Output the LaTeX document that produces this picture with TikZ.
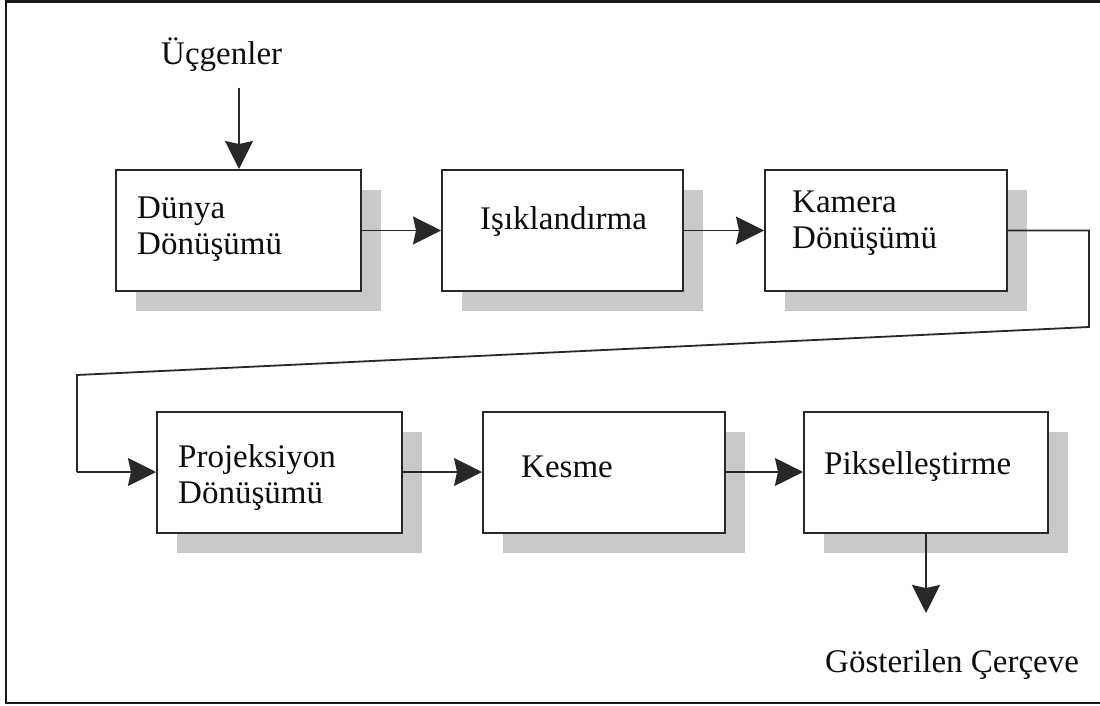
\documentclass[tikz,border=0pt]{standalone}
\usepackage{fontspec}
\setmainfont{Liberation Serif}
\usetikzlibrary{arrows.meta,shadows}

\definecolor{shade}{RGB}{200,201,203}
\definecolor{ink}{RGB}{40,40,40}

\begin{document}
\begin{tikzpicture}[x=1pt,y=-1pt,
  stage/.style={draw=ink, line width=2pt, fill=white, inner sep=0pt,
    minimum height=121pt,
    drop shadow={shadow xshift=20pt, shadow yshift=-20pt, fill=shade, opacity=1}},
  lbl/.style={inner sep=0pt, anchor=base west, align=left, text=black!95,
    font=\fontsize{33}{36}\selectfont},
  flow/.style={draw=ink, line width=1.8pt,
    -{Stealth[inset=3pt, length=28pt, width=28pt]}},
  wire/.style={draw=ink, line width=1.8pt}]

\useasboundingbox (0,0) rectangle (1100,706);

% frame (open on the right)
\draw[line width=2.6pt, black!90] (1104,1.5) -- (6,1.5) -- (6,703) -- (1104,703);

% processing stages
\node[stage, minimum width=245pt] (b1) at (238.5,230.5) {};
\node[stage, minimum width=241pt] (b2) at (562.5,230.5) {};
\node[stage, minimum width=242pt] (b3) at (886,230.5) {};
\node[stage, minimum width=245pt] (b4) at (279.5,472) {};
\node[stage, minimum width=242pt] (b5) at (604,472) {};
\node[stage, minimum width=244pt] (b6) at (926,472) {};

% stage texts
\node[lbl, text width=210pt] (t1) at (137,218) {Dünya\\Dönüşümü};
\node[lbl] (t2) at (480,229) {Işıklandırma};
\node[lbl, text width=210pt] (t3) at (792,212) {Kamera\\Dönüşümü};
\node[lbl, text width=215pt] (t4) at (178,467) {Projeksiyon\\Dönüşümü};
\node[lbl] (t5) at (521,477) {Kesme};
\node[lbl] (t6) at (824,474) {Pikselleştirme};

% input and output
\node[lbl] (in) at (161,65) {Üçgenler};
\node[lbl] (out) at (825,672) {Gösterilen Çerçeve};

\coordinate (inend) at (239,88);
\coordinate (outend) at (926,613);
\coordinate (r1) at (1089,230.5);
\coordinate (r2) at (1089,327);
\coordinate (l1) at (77,375);
\coordinate (l2) at (77,472);

% connectors
\draw[flow] (inend) -- (inend |- b1.north);
\draw[flow] (b1.east) -- (b2.west);
\draw[flow] (b2.east) -- (b3.west);
\draw[wire] (b3.east) -- (r1) -- (r2) -- (l1) -- (l2);
\draw[flow] (l2) -- (b4.west);
\draw[flow] (b4.east) -- (b5.west);
\draw[flow] (b5.east) -- (b6.west);
\draw[flow] (b6.south) -- (outend);

\end{tikzpicture}
\end{document}
